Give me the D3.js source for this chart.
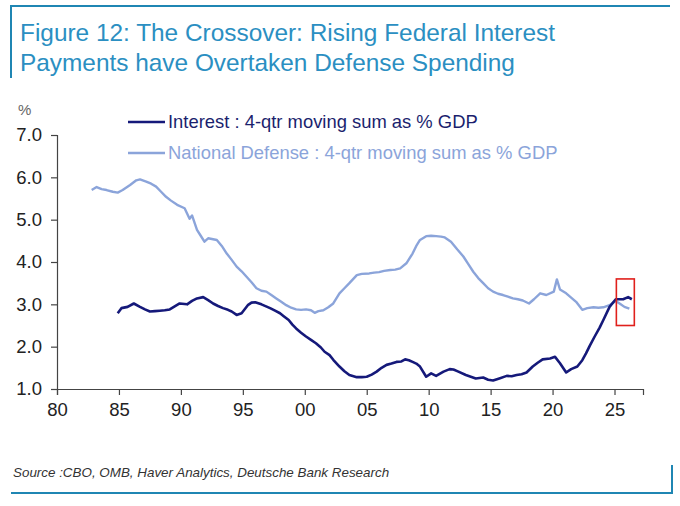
<!DOCTYPE html>
<html>
<head>
<meta charset="utf-8">
<script src="https://cdn.jsdelivr.net/npm/d3@7"></script>
<style>
  body { margin: 0; background: #fff; }
  svg { display: block; font-family: "Liberation Sans", Arial, sans-serif; }
</style>
</head>
<body>
<svg width="680" height="506"></svg>
<script>
// defense outlays, 4-qtr moving sum as % GDP
var defenseYears = [1982.8, 1983.2, 1983.6, 1984.0, 1984.5, 1984.9, 1985.3, 1985.9, 1986.4, 1986.7,
  1987.2, 1987.6, 1988.0, 1988.4, 1988.8, 1989.2, 1989.7, 1990.3, 1990.7, 1990.9,
  1991.3, 1991.6, 1991.9, 1992.2, 1992.9, 1993.3, 1993.7, 1994.1, 1994.5, 1994.9,
  1995.3, 1995.7, 1996.1, 1996.5, 1996.9, 1997.3, 1997.7, 1998.1, 1998.5, 1998.9,
  1999.3, 1999.7, 2000.1, 2000.5, 2000.8, 2001.1, 2001.5, 2001.9, 2002.3, 2002.8,
  2003.2, 2003.6, 2004.2, 2004.6, 2005.2, 2005.6, 2006.0, 2006.4, 2006.9, 2007.3,
  2007.7, 2008.2, 2008.7, 2009.0, 2009.3, 2009.8, 2010.2, 2010.6, 2011.0, 2011.3,
  2011.8, 2012.3, 2012.8, 2013.2, 2013.6, 2014.0, 2014.4, 2014.8, 2015.2, 2015.6,
  2016.0, 2016.4, 2016.8, 2017.2, 2017.6, 2018.1, 2018.5, 2019.0, 2019.5, 2020.1,
  2020.35, 2020.6, 2021.1, 2021.5, 2021.9, 2022.4, 2022.8, 2023.3, 2023.7, 2024.1,
  2024.6, 2025.1, 2025.5, 2025.8, 2026.2];
var defenseValues = [5.70, 5.77, 5.72, 5.70, 5.66, 5.64, 5.70, 5.82, 5.93, 5.95,
  5.90, 5.85, 5.78, 5.66, 5.54, 5.45, 5.35, 5.27, 5.02, 5.10,
  4.76, 4.62, 4.48, 4.56, 4.52, 4.38, 4.20, 4.05, 3.89, 3.78,
  3.65, 3.52, 3.38, 3.32, 3.30, 3.22, 3.14, 3.06, 2.98, 2.92,
  2.88, 2.87, 2.88, 2.86, 2.80, 2.84, 2.86, 2.93, 3.02, 3.26,
  3.38, 3.50, 3.69, 3.72, 3.73, 3.75, 3.76, 3.79, 3.81, 3.82,
  3.85, 3.97, 4.20, 4.38, 4.52, 4.61, 4.62, 4.61, 4.60, 4.58,
  4.48, 4.30, 4.13, 3.95, 3.77, 3.62, 3.50, 3.38, 3.30, 3.25,
  3.22, 3.18, 3.14, 3.12, 3.09, 3.02, 3.12, 3.26, 3.22, 3.30,
  3.59, 3.35, 3.26, 3.16, 3.06, 2.87, 2.91, 2.93, 2.92, 2.93,
  2.98, 3.08, 3.00, 2.94, 2.90];

// net interest, 4-qtr moving sum as % GDP
var interestYears = [1984.9, 1985.2, 1985.7, 1986.2, 1986.7, 1987.1, 1987.5, 1987.9, 1988.3, 1988.7,
  1989.1, 1989.5, 1989.9, 1990.5, 1990.9, 1991.3, 1991.8, 1992.2, 1992.6, 1993.0,
  1993.4, 1993.8, 1994.1, 1994.5, 1994.9, 1995.4, 1995.7, 1996.0, 1996.5, 1997.2,
  1997.6, 1998.0, 1998.3, 1998.7, 1999.0, 1999.3, 1999.7, 2000.1, 2000.5, 2000.9,
  2001.3, 2001.6, 2002.0, 2002.3, 2002.8, 2003.2, 2003.6, 2004.2, 2004.6, 2005.0,
  2005.4, 2005.8, 2006.2, 2006.6, 2007.0, 2007.4, 2007.8, 2008.1, 2008.4, 2008.7,
  2009.0, 2009.3, 2009.8, 2010.2, 2010.6, 2011.2, 2011.7, 2012.0, 2012.4, 2013.0,
  2013.4, 2013.8, 2014.4, 2014.8, 2015.2, 2015.7, 2016.3, 2016.7, 2017.1, 2017.5,
  2017.9, 2018.4, 2018.8, 2019.2, 2019.8, 2020.2, 2020.6, 2021.1, 2021.5, 2022.0,
  2022.4, 2022.7, 2023.0, 2023.4, 2023.8, 2024.1, 2024.6, 2025.1, 2025.7, 2026.1,
  2026.4];
var interestValues = [2.79, 2.91, 2.94, 3.02, 2.94, 2.88, 2.83, 2.84, 2.85, 2.86,
  2.88, 2.95, 3.02, 3.00, 3.08, 3.14, 3.17, 3.10, 3.02, 2.96,
  2.91, 2.87, 2.83, 2.75, 2.79, 2.98, 3.04, 3.05, 3.00, 2.91,
  2.85, 2.79, 2.72, 2.63, 2.52, 2.43, 2.33, 2.24, 2.16, 2.08,
  1.98, 1.88, 1.80, 1.69, 1.53, 1.42, 1.33, 1.28, 1.28, 1.29,
  1.34, 1.41, 1.50, 1.57, 1.60, 1.64, 1.65, 1.70, 1.68, 1.64,
  1.60, 1.53, 1.29, 1.37, 1.31, 1.41, 1.47, 1.46, 1.41, 1.33,
  1.29, 1.25, 1.27, 1.22, 1.20, 1.25, 1.31, 1.30, 1.33, 1.35,
  1.39, 1.53, 1.62, 1.70, 1.72, 1.76, 1.61, 1.39, 1.47, 1.53,
  1.68, 1.84, 2.02, 2.24, 2.45, 2.63, 2.94, 3.12, 3.12, 3.17,
  3.12];

var xTicks = [1980, 1985, 1990, 1995, 2000, 2005, 2010, 2015, 2020, 2025];
var yTicks = [1, 2, 3, 4, 5, 6, 7];
var boxYears = [2025.15, 2026.6];
var boxValues = [2.5, 3.6];

var titleLines = ["Figure 12: The Crossover: Rising Federal Interest",
  "Payments have Overtaken Defense Spending"];
var legendLabels = ["Interest : 4-qtr moving sum as % GDP",
  "National Defense : 4-qtr moving sum as % GDP"];
var sourceText = "Source :CBO, OMB, Haver Analytics, Deutsche Bank Research";

var frameColor = "#1f86b3";
var interestColor = "#15197a";
var defenseColor = "#8ba4da";

var svg = d3.select("svg");

var x = d3.scaleLinear().domain([1980, 2027.3]).range([57, 643]);
var y = d3.scaleLinear().domain([1, 7]).range([389, 135]);

// frame
svg.append("line").attr("x1", 10).attr("x2", 670).attr("y1", 6).attr("y2", 6)
  .attr("stroke", frameColor).attr("stroke-width", 2);
svg.append("line").attr("x1", 11).attr("x2", 11).attr("y1", 5).attr("y2", 78)
  .attr("stroke", frameColor).attr("stroke-width", 2);
svg.append("line").attr("x1", 11).attr("x2", 672).attr("y1", 493).attr("y2", 493)
  .attr("stroke", frameColor).attr("stroke-width", 2);
svg.append("line").attr("x1", 672).attr("x2", 672).attr("y1", 465).attr("y2", 494)
  .attr("stroke", frameColor).attr("stroke-width", 2);

svg.selectAll("text.title")
  .data(titleLines)
  .enter()
  .append("text")
  .attr("class", "title")
  .attr("x", 20)
  .attr("y", (d, i) => 41 + i * 30)
  .attr("fill", "#2b8fc2")
  .style("font-size", "24.4px")
  .text(d => d);

svg.append("text").attr("x", 18).attr("y", 115)
  .attr("fill", "#666").style("font-size", "15px").text("%");

// axes
var xAxis = svg.append("g")
  .attr("transform", "translate(0," + y(1) + ")")
  .call(d3.axisBottom(x).tickValues(xTicks).tickSize(6).tickPadding(8)
    .tickFormat(d => String(d % 100).padStart(2, "0")));
var yAxis = svg.append("g")
  .attr("transform", "translate(" + x(1980) + ",0)")
  .call(d3.axisLeft(y).tickValues(yTicks).tickSize(6).tickPadding(9)
    .tickFormat(d3.format(".1f")));

[xAxis, yAxis].forEach(g => {
  g.select(".domain").attr("stroke", "#444").attr("stroke-width", 1.2);
  g.selectAll(".tick line").attr("stroke", "#444").attr("stroke-width", 1.2);
  g.selectAll(".tick text").attr("fill", "#222").style("font-size", "18.5px")
    .style("font-family", "'Liberation Sans', Arial, sans-serif");
});

var line = d3.line().x(d => x(d[0])).y(d => y(d[1]));

svg.append("path")
  .datum(d3.zip(defenseYears, defenseValues))
  .attr("fill", "none")
  .attr("stroke", defenseColor)
  .attr("stroke-width", 2.4)
  .attr("stroke-linejoin", "round")
  .attr("d", line);

svg.append("path")
  .datum(d3.zip(interestYears, interestValues))
  .attr("fill", "none")
  .attr("stroke", interestColor)
  .attr("stroke-width", 2.6)
  .attr("stroke-linejoin", "round")
  .attr("d", line);

// highlight box
svg.append("rect")
  .attr("x", x(boxYears[0]))
  .attr("y", y(boxValues[1]))
  .attr("width", x(boxYears[1]) - x(boxYears[0]))
  .attr("height", y(boxValues[0]) - y(boxValues[1]))
  .attr("fill", "none")
  .attr("stroke", "#e0201c")
  .attr("stroke-width", 1.6);

// legend
var legend = svg.selectAll("g.legend")
  .data(legendLabels)
  .enter()
  .append("g")
  .attr("class", "legend")
  .attr("transform", (d, i) => "translate(128," + (122 + i * 31) + ")");
legend.append("line")
  .attr("x1", 0).attr("x2", 37)
  .attr("stroke", (d, i) => i === 0 ? interestColor : defenseColor)
  .attr("stroke-width", 2.6);
legend.append("text")
  .attr("x", 40).attr("y", 6)
  .attr("fill", (d, i) => i === 0 ? "#1b1f6e" : "#8ba4da")
  .style("font-size", "18.4px")
  .text(d => d);

svg.append("text")
  .attr("x", 13).attr("y", 477)
  .attr("fill", "#333")
  .style("font-size", "13.4px")
  .style("font-style", "italic")
  .text(sourceText);
</script>
</body>
</html>
